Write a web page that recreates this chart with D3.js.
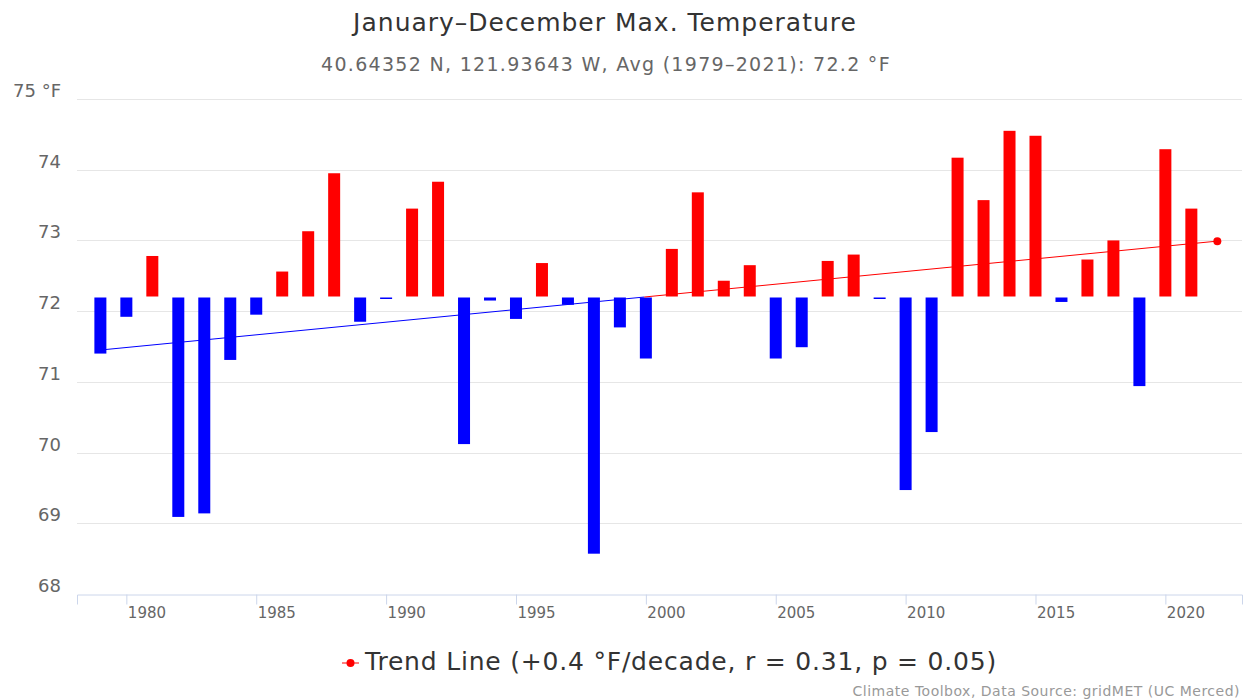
<!DOCTYPE html>
<html>
<head>
<meta charset="utf-8">
<script src="https://cdn.jsdelivr.net/npm/d3@7"></script>
<style>
  body { margin: 0; background: #fff; }
  text { font-family: "DejaVu Sans", sans-serif; }
</style>
</head>
<body>
<div class="chart"></div>
<script>
// values
const years = d3.range(1979, 2022);
const maxTemp = [
  71.40, 71.92, 72.78, 69.09, 69.14, 71.31, 71.95, 72.56, 73.13, 73.95,
  71.85, 72.18, 73.45, 73.83, 70.12, 72.15, 71.89, 72.68, 72.09, 68.57,
  71.77, 71.33, 72.88, 73.68, 72.43, 72.65, 71.33, 71.49, 72.71, 72.80,
  72.18, 69.47, 70.29, 74.17, 73.57, 74.55, 74.48, 72.13, 72.73, 73.00,
  70.94, 74.29, 73.45
];
const avg = 72.2;
const trendYears = [1979, 2022];
const trendValues = [71.45, 72.99];
const yTicks = [68, 69, 70, 71, 72, 73, 74, 75];
const xTicks = [1980, 1985, 1990, 1995, 2000, 2005, 2010, 2015, 2020];

const width = 1244, height = 700;
const margin = { top: 99, right: 2, bottom: 106, left: 77 };

const svg = d3.select('.chart').append('svg')
    .attr('width', width)
    .attr('height', height);

const x = d3.scaleLinear()
    .domain([1978.1, 2022.95])
    .range([margin.left, width - margin.right]);

const y = d3.scaleLinear()
    .domain([68, 75])
    .range([height - margin.bottom, margin.top]);

// title + subtitle
svg.append('text')
    .attr('x', 605).attr('y', 31)
    .attr('text-anchor', 'middle')
    .attr('font-size', 25)
    .attr('letter-spacing', 1)
    .attr('fill', '#333')
    .text('January–December Max. Temperature');

svg.append('text')
    .attr('x', 606).attr('y', 71)
    .attr('text-anchor', 'middle')
    .attr('font-size', 19)
    .attr('letter-spacing', 1.3)
    .attr('fill', '#666')
    .text('40.64352 N, 121.93643 W, Avg (1979–2021): 72.2 °F');

// grid
svg.append('g')
    .selectAll('line')
    .data(yTicks.slice(1))
    .enter().append('line')
    .attr('x1', margin.left).attr('x2', width - margin.right)
    .attr('y1', d => Math.round(y(d)) + 0.5).attr('y2', d => Math.round(y(d)) + 0.5)
    .attr('stroke', '#e6e6e6');

// y labels sit just above the grid lines
svg.append('g')
    .selectAll('text')
    .data(yTicks)
    .enter().append('text')
    .attr('x', 61)
    .attr('y', d => y(d) - 2)
    .attr('text-anchor', 'end')
    .attr('font-size', 18)
    .attr('fill', '#666')
    .text(d => d === 75 ? '75 °F' : d);

// x axis
const xAxis = d3.axisBottom(x)
    .tickValues(xTicks)
    .tickSize(10)
    .tickFormat(d3.format('d'));

const xAxisGroup = svg.append('g')
    .attr('transform', `translate(0, ${Math.round(y(68)) + 0.5})`)
    .call(xAxis);

xAxisGroup.select('.domain').attr('stroke', '#ccd6eb');
xAxisGroup.selectAll('.tick line').attr('stroke', '#ccd6eb');
xAxisGroup.selectAll('.tick text')
    .attr('text-anchor', 'start')
    .attr('x', 1)
    .attr('y', 10)
    .attr('dy', '0.9em')
    .attr('font-family', '"DejaVu Sans", sans-serif')
    .attr('font-size', 15)
    .attr('fill', '#666');

// bars from the average
const barW = 12;
svg.append('g')
    .selectAll('rect')
    .data(years.map((yr, i) => ({ year: yr, value: maxTemp[i] })))
    .enter().append('rect')
    .attr('x', d => x(d.year) - barW / 2)
    .attr('width', barW)
    .attr('y', d => d.value >= avg ? y(d.value) : y(avg) + 0.5)
    .attr('height', d => Math.max(1.5, Math.abs(y(d.value) - y(avg)) - 0.5))
    .attr('fill', d => d.value >= avg ? '#ff0000' : '#0000ff');

// trend line, blue below the average, red above
const t = (avg - trendValues[0]) / (trendValues[1] - trendValues[0]);
const crossYear = trendYears[0] + t * (trendYears[1] - trendYears[0]);
const trendLow = [[trendYears[0], trendValues[0]], [crossYear, avg]];
const trendHigh = [[crossYear, avg], [trendYears[1], trendValues[1]]];
const line = d3.line().x(d => x(d[0])).y(d => y(d[1]));

svg.append('path').attr('d', line(trendLow))
    .attr('fill', 'none').attr('stroke', '#0000ff').attr('stroke-width', 1);
svg.append('path').attr('d', line(trendHigh))
    .attr('fill', 'none').attr('stroke', '#ff0000').attr('stroke-width', 1);
svg.append('circle')
    .attr('cx', x(trendYears[1])).attr('cy', y(trendValues[1]))
    .attr('r', 4).attr('fill', '#ff0000');

// legend
const legend = svg.append('g').attr('transform', 'translate(342, 663)');
legend.append('line').attr('x1', 0).attr('x2', 17)
    .attr('stroke', '#ff0000').attr('stroke-width', 1);
legend.append('circle').attr('cx', 8.5).attr('r', 4).attr('fill', '#ff0000');
legend.append('text')
    .attr('x', 23).attr('y', 7)
    .attr('font-size', 25)
    .attr('letter-spacing', 0.8)
    .attr('fill', '#333')
    .text('Trend Line (+0.4 °F/decade, r = 0.31, p = 0.05)');

// credits
svg.append('text')
    .attr('x', 1240).attr('y', 696)
    .attr('text-anchor', 'end')
    .attr('font-size', 14)
    .attr('letter-spacing', 0.5)
    .attr('fill', '#999')
    .text('Climate Toolbox, Data Source: gridMET (UC Merced)');
</script>
</body>
</html>
